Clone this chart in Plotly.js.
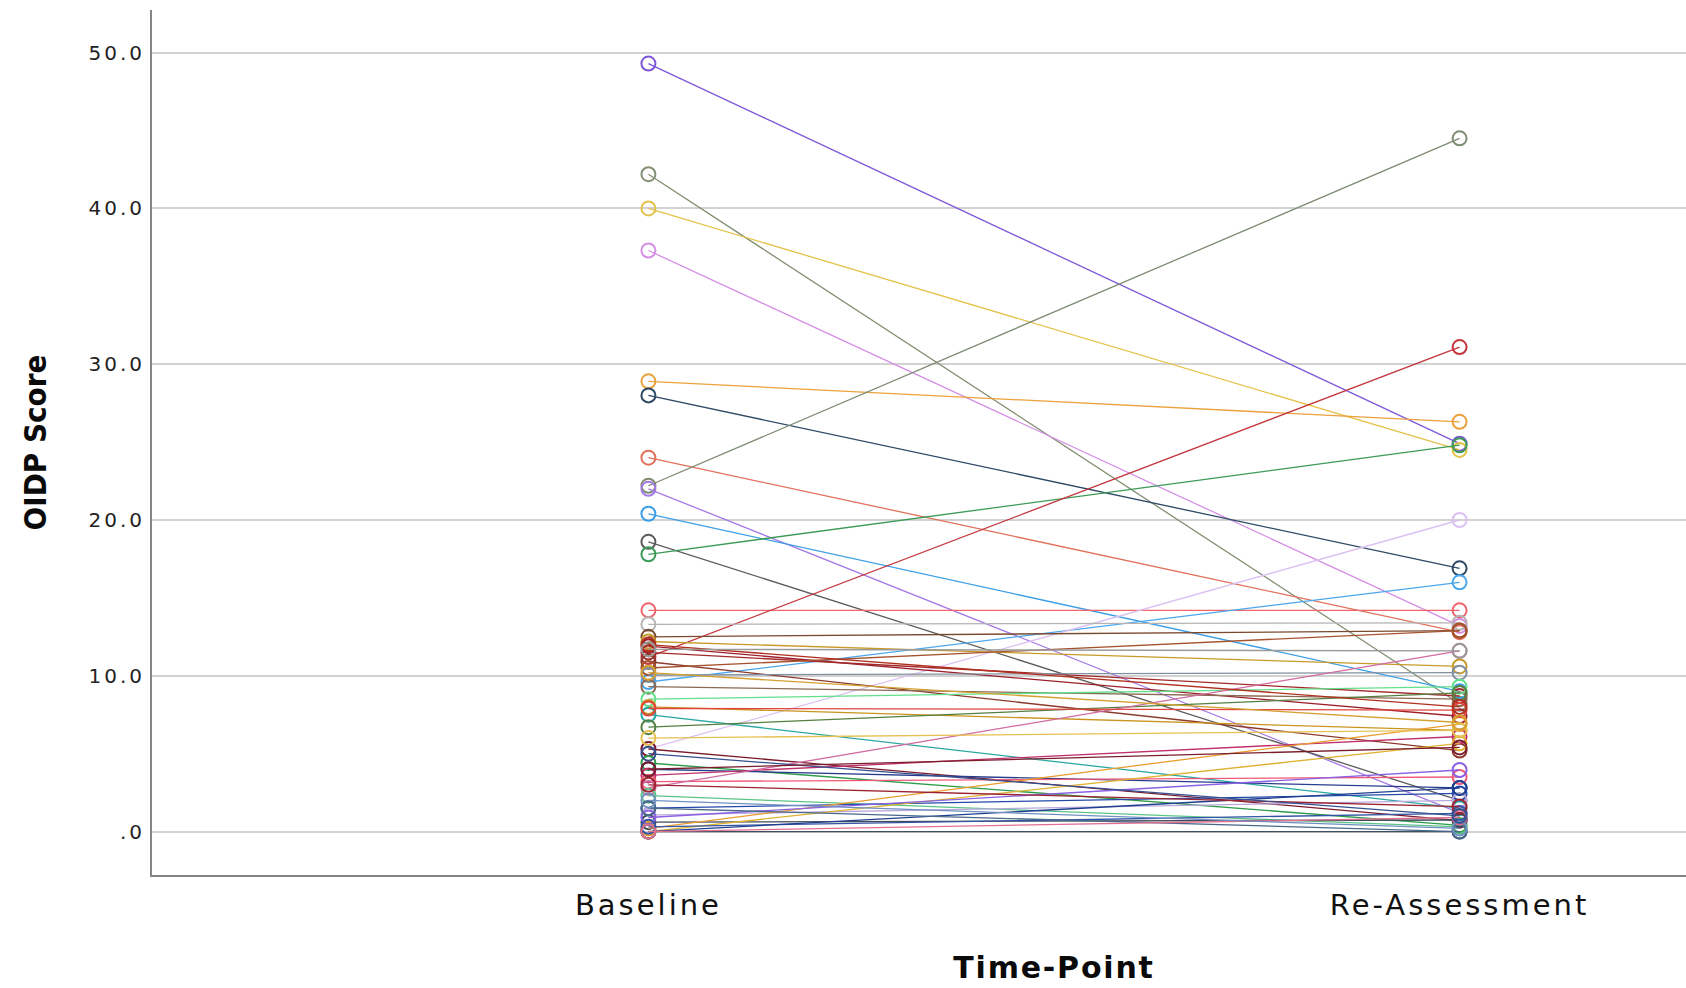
<!DOCTYPE html>
<html>
<head>
<meta charset="utf-8">
<script src="https://cdn.plot.ly/plotly-3.0.1.min.js"></script>
<style>
  html, body { margin: 0; padding: 0; background: #fff; overflow: hidden; }
  #chart { width: 1956px; height: 988px; }
  .ytick text { letter-spacing: 3px; }
  .xtick text { letter-spacing: 3px; }
  .g-xtitle text { letter-spacing: 1.8px; }
</style>
</head>
<body>
<div id="chart"></div>
<script>
// Two measurement occasions per participant
const timePoints = ['Baseline', 'Re-Assessment'];

// OIDP score per participant at each occasion (same order in both arrays)
const baselineScores = [
  49.3, 42.2, 40.0, 37.3, 28.9, 28.0, 24.0, 22.2, 22.0, 20.4,
  18.6, 17.8, 14.2, 11.2, 9.6, 5.3, 13.3, 12.5, 12.2, 11.9,
  11.5, 10.9, 10.5, 10.05, 9.3, 8.5, 8.0, 7.5, 6.7, 5.3,
  4.4, 4.0, 3.6, 3.2, 2.8, 2.3, 1.5, 1.06, 0.6, 0.0,
  0.2, 0.0, 0.9, 0.3, 0.0, 7.9, 6.0, 12.0, 11.7, 10.2,
  3.0, 1.5, 0.0, 2.0, 5.0, 4.0
];
const reassessmentScores = [
  24.9, 8.2, 24.5, 13.2, 26.3, 16.9, 12.8, 44.5, 1.2, 9.0,
  2.0, 24.8, 14.2, 31.1, 16.0, 20.0, 13.4, 12.9, 10.6, 7.4,
  8.7, 5.2, 12.9, 10.2, 8.5, 9.3, 6.5, 1.5, 8.9, 0.7,
  0.4, 2.8, 6.1, 3.5, 11.6, 0.3, 2.45, 2.0, 0.74, 0.0,
  6.9, 5.66, 3.95, 1.17, 2.8, 7.8, 6.5, 8.0, 11.6, 7.0,
  1.6, 0.0, 0.9, 0.2, 1.0, 5.4
];

// One colour per participant
const lineColors = [
  '#7e57d8', '#818f72', '#e4c24a', '#d58ee6', '#eba13c', '#2e4965', '#e2705a', '#7d8c72', '#a579e6', '#3d9fe6',
  '#5b5b5b', '#3b9a55', '#f0656c', '#c2363d', '#4aa7ee', '#dcc0f2', '#b3b3b3', '#7a4a30', '#c89a28', '#9c1f2b',
  '#a32a2a', '#8b3a2b', '#a5532e', '#8190a0', '#8a6a52', '#62e08c', '#c99520', '#2aa7a2', '#557f40', '#7b1a2c',
  '#2e9b4a', '#283d8d', '#c1306b', '#f05a7a', '#d06aa0', '#5cc486', '#2449aa', '#b9a9dc', '#414a5a', '#3e5060',
  '#eb9c2e', '#dfb232', '#8a62e2', '#3454a4', '#1f3f8f', '#e0443c', '#e6c050', '#b0301f', '#9a9a9a', '#d4a030',
  '#9c2430', '#4a6a8a', '#e07090', '#7090c0', '#35508f', '#7a1e2e'
];

const yTickValues = [0, 10, 20, 30, 40, 50];
const yTickLabels = ['.0', '10.0', '20.0', '30.0', '40.0', '50.0'];

const traces = baselineScores.map((b, i) => ({
  type: 'scatter',
  mode: 'lines+markers',
  x: timePoints,
  y: [b, reassessmentScores[i]],
  line: { color: lineColors[i], width: 1.3 },
  marker: {
    symbol: 'circle-open',
    size: 14,
    color: lineColors[i],
    line: { width: 2, color: lineColors[i] }
  },
  showlegend: false,
  hoverinfo: 'skip'
}));

const layout = {
  width: 1956,
  height: 988,
  margin: { l: 152, r: 0, t: 10, b: 113 },
  paper_bgcolor: '#ffffff',
  plot_bgcolor: '#ffffff',
  font: { family: 'DejaVu Sans', color: '#222222' },
  showlegend: false,
  xaxis: {
    type: 'category',
    range: [-0.612, 1.612],
    showgrid: false,
    zeroline: false,
    showline: true,
    linecolor: '#858585',
    linewidth: 2,
    ticks: '',
    tickfont: { family: 'DejaVu Sans', size: 29, color: '#111111' },
    ticklabelstandoff: 3,
    title: {
      text: 'Time-Point',
      font: { family: 'DejaVu Sans', size: 30, weight: 'bold', color: '#0a0a0a' },
      standoff: 36
    }
  },
  yaxis: {
    range: [-2.79, 52.74],
    tickmode: 'array',
    tickvals: yTickValues,
    ticktext: yTickLabels,
    showgrid: true,
    gridcolor: '#d2d2d2',
    gridwidth: 2,
    zeroline: false,
    showline: true,
    linecolor: '#858585',
    linewidth: 2,
    ticks: '',
    tickfont: { family: 'DejaVu Sans', size: 20, color: '#222222' },
    ticklabelstandoff: 1,
    title: {
      text: 'OIDP Score',
      font: { family: 'DejaVu Sans Condensed, DejaVu Sans, sans-serif', size: 31, weight: 'bold', color: '#0a0a0a' },
      standoff: 33
    }
  }
};

Plotly.newPlot('chart', traces, layout, { staticPlot: true, displayModeBar: false });
</script>
</body>
</html>
